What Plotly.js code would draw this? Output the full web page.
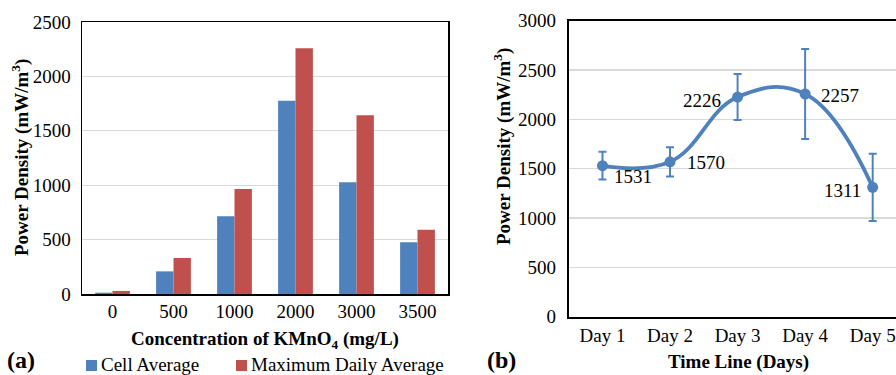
<!DOCTYPE html>
<html><head><meta charset="utf-8">
<script src="https://cdn.plot.ly/plotly-3.0.1.min.js"></script>
<style>html,body{margin:0;padding:0;background:#fff}#chart{width:896px;height:375px}</style>
</head><body><div id="chart"></div>
<script>
// Panel (a) data
const concentrations = ['0', '500', '1000', '2000', '3000', '3500'];
const seriesNames = ['Cell Average', 'Maximum Daily Average'];
const cellAverage = [12, 208, 714, 1777, 1026, 475];
const maxDailyAverage = [28, 331, 965, 2258, 1642, 591];

// Panel (b) data
const days = ['Day 1', 'Day 2', 'Day 3', 'Day 4', 'Day 5'];
const dayPower = [1531, 1570, 2226, 2257, 1311];
const dayError = [140, 148, 233, 456, 340];

const W = 896, H = 375;
const BLUE = '#4f81bd', RED = '#c0504d';
const FONT = 'Liberation Serif, Times New Roman, serif';

const traces = [
  {type: 'bar', x: concentrations, y: cellAverage, name: seriesNames[0],
   marker: {color: BLUE}, xaxis: 'x', yaxis: 'y', showlegend: false},
  {type: 'bar', x: concentrations, y: maxDailyAverage, name: seriesNames[1],
   marker: {color: RED}, xaxis: 'x', yaxis: 'y', showlegend: false},
  {type: 'scatter', mode: 'lines+markers', x: days, y: dayPower,
   line: {color: BLUE, width: 3.8, shape: 'spline', smoothing: 1.2},
   marker: {color: BLUE, size: 11},
   error_y: {type: 'data', array: dayError, visible: true, color: BLUE, thickness: 2, width: 4},
   xaxis: 'x2', yaxis: 'y2', showlegend: false}
];

const px = v => v / W, py = v => 1 - v / H;

// Label offsets for panel (b) (style only)
const labelShift = [[31, -11], [36, -1], [-36, -3], [35, -1], [-30, -3]];

const annotations = [];
days.forEach((d, i) => {
  annotations.push({x: d, y: dayPower[i], xref: 'x2', yref: 'y2', text: String(dayPower[i]),
    showarrow: false, xshift: labelShift[i][0], yshift: labelShift[i][1],
    font: {family: FONT, size: 19, color: '#000'}});
});
const titleFont = {family: FONT, size: 19, color: '#000', weight: 'bold'};
annotations.push(
  {x: px(20), y: py(158), xref: 'paper', yref: 'paper', text: '<b>Power Density (mW/m<sup>3</sup>)</b>',
   textangle: -90, showarrow: false, font: titleFont, xanchor: 'center', yanchor: 'middle'},
  {x: px(265), y: py(340), xref: 'paper', yref: 'paper', text: '<b>Concentration of KMnO<sub>4</sub> (mg/L)</b>',
   showarrow: false, font: titleFont, xanchor: 'center', yanchor: 'middle'},
  {x: px(502), y: py(146), xref: 'paper', yref: 'paper', text: '<b>Power Density (mW/m<sup>3</sup>)</b>',
   textangle: -90, showarrow: false, font: titleFont, xanchor: 'center', yanchor: 'middle'},
  {x: px(738), y: py(362), xref: 'paper', yref: 'paper', text: '<b>Time Line (Days)</b>',
   showarrow: false, font: titleFont, xanchor: 'center', yanchor: 'middle'},
  {x: px(5), y: py(360), xref: 'paper', yref: 'paper', text: '<b>(a)</b>',
   showarrow: false, font: {family: FONT, size: 24, color: '#000'}, xanchor: 'left', yanchor: 'middle'},
  {x: px(485), y: py(360), xref: 'paper', yref: 'paper', text: '<b>(b)</b>',
   showarrow: false, font: {family: FONT, size: 24, color: '#000'}, xanchor: 'left', yanchor: 'middle'},
  {x: px(99), y: py(364), xref: 'paper', yref: 'paper', text: seriesNames[0],
   showarrow: false, font: {family: FONT, size: 19, color: '#000'}, xanchor: 'left', yanchor: 'middle'},
  {x: px(249), y: py(364), xref: 'paper', yref: 'paper', text: seriesNames[1],
   showarrow: false, font: {family: FONT, size: 19, color: '#000'}, xanchor: 'left', yanchor: 'middle'}
);

const shapes = [
  {type: 'rect', xref: 'paper', yref: 'paper', x0: px(86), x1: px(97), y0: py(360), y1: py(371),
   fillcolor: BLUE, line: {width: 0}},
  {type: 'rect', xref: 'paper', yref: 'paper', x0: px(236), x1: px(247), y0: py(360), y1: py(371),
   fillcolor: RED, line: {width: 0}}
];

const tickFont = {family: FONT, size: 19, color: '#000'};
const layout = {
  width: W, height: H,
  margin: {l: 0, r: 0, t: 0, b: 0},
  paper_bgcolor: '#fff', plot_bgcolor: '#fff',
  barmode: 'group', bargap: 0.43, bargroupgap: 0,
  showlegend: false,
  xaxis: {domain: [px(82), px(448)], anchor: 'y', type: 'category',
    showline: true, linecolor: '#000', linewidth: 1.5, mirror: true,
    showgrid: false, ticks: '', tickfont: tickFont, ticklabelstandoff: 0},
  yaxis: {domain: [py(294), py(22)], anchor: 'x', range: [0, 2500], dtick: 500,
    showline: true, linecolor: '#000', linewidth: 1.5, mirror: true,
    showgrid: true, gridcolor: '#d9d9d9', gridwidth: 1.2, zeroline: false,
    ticks: '', tickfont: tickFont, ticklabelstandoff: 6},
  xaxis2: {domain: [px(568.7), 1], anchor: 'y2', type: 'category', range: [-0.5, 4.345],
    showline: true, linecolor: '#000', linewidth: 2, mirror: true,
    showgrid: false, ticks: '', tickfont: tickFont, ticklabelstandoff: 0},
  yaxis2: {domain: [py(316.7), py(20.7)], anchor: 'x2', range: [0, 3000], dtick: 500,
    showline: true, linecolor: '#000', linewidth: 2, mirror: false,
    showgrid: true, gridcolor: '#d9d9d9', gridwidth: 1.2, zeroline: false,
    ticks: '', tickfont: tickFont, ticklabelstandoff: 7},
  annotations: annotations,
  shapes: shapes
};

Plotly.newPlot('chart', traces, layout, {displayModeBar: false, staticPlot: true});
</script></body></html>
